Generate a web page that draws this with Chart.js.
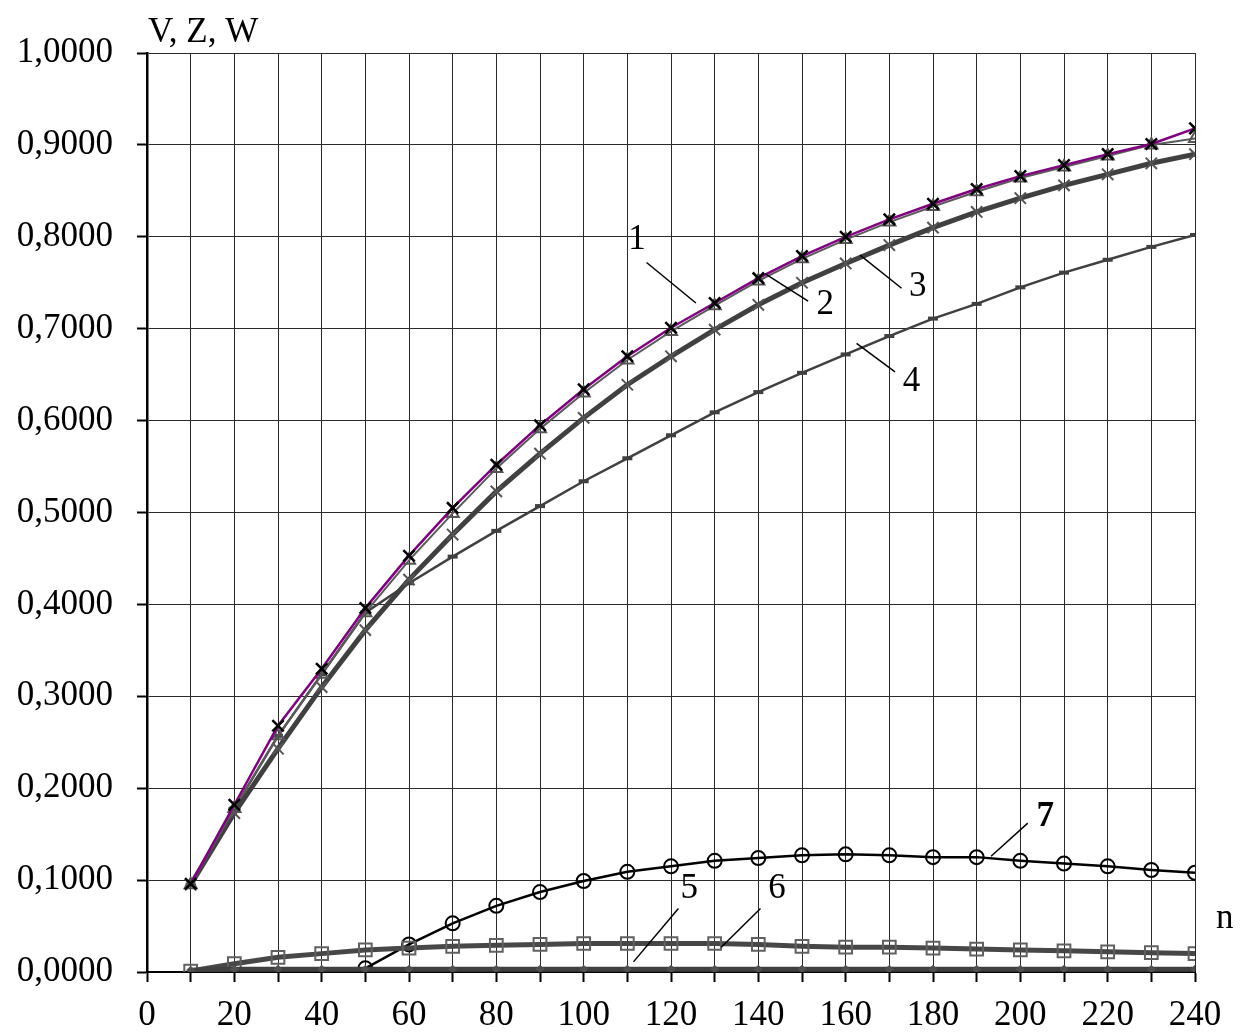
<!DOCTYPE html>
<html>
<head>
<meta charset="utf-8">
<script src="https://cdn.jsdelivr.net/npm/chart.js@4/dist/chart.umd.min.js"></script>
<style>
  html, body { margin: 0; padding: 0; background: #fff; }
  canvas { display: block; }
</style>
</head>
<body>
<canvas id="myChart" width="1240" height="1034"></canvas>
<script>
// n values (x axis)
var nValues = [10, 20, 30, 40, 50, 60, 70, 80, 90, 100, 110, 120, 130, 140, 150, 160, 170, 180, 190, 200, 210, 220, 230, 240];

// curves 1-6 start at n = 10, curve 7 starts at n = 50
var curve1 = [0.096, 0.182, 0.268, 0.330, 0.396, 0.453, 0.505, 0.552, 0.595, 0.634, 0.670, 0.701, 0.728, 0.755, 0.779, 0.800, 0.819, 0.836, 0.852, 0.866, 0.878, 0.890, 0.901, 0.918];
var curve2 = [0.095, 0.178, 0.257, 0.324, 0.391, 0.448, 0.499, 0.548, 0.591, 0.630, 0.666, 0.697, 0.725, 0.752, 0.776, 0.797, 0.816, 0.833, 0.849, 0.864, 0.876, 0.888, 0.900, 0.907];
var curve3 = [0.095, 0.173, 0.243, 0.310, 0.372, 0.427, 0.476, 0.523, 0.564, 0.603, 0.639, 0.670, 0.699, 0.726, 0.750, 0.771, 0.791, 0.810, 0.827, 0.842, 0.856, 0.868, 0.880, 0.890];
var curve4 = [0.095, 0.178, 0.257, 0.324, 0.391, 0.423, 0.452, 0.480, 0.507, 0.534, 0.559, 0.584, 0.609, 0.631, 0.652, 0.672, 0.692, 0.711, 0.727, 0.745, 0.761, 0.775, 0.789, 0.802];
var curve5 = [0.002, 0.003, 0.003, 0.003, 0.003, 0.003, 0.003, 0.003, 0.003, 0.003, 0.003, 0.003, 0.003, 0.003, 0.003, 0.003, 0.003, 0.003, 0.003, 0.003, 0.003, 0.003, 0.003, 0.003];
var curve6 = [0.001, 0.009, 0.016, 0.020, 0.024, 0.026, 0.028, 0.029, 0.030, 0.031, 0.031, 0.031, 0.031, 0.030, 0.028, 0.027, 0.027, 0.026, 0.025, 0.024, 0.023, 0.022, 0.021, 0.020];
var curve7 = [null, null, null, null, 0.004, 0.030, 0.053, 0.072, 0.087, 0.099, 0.109, 0.115, 0.121, 0.124, 0.127, 0.128, 0.127, 0.125, 0.125, 0.121, 0.118, 0.115, 0.111, 0.108];

// curve number labels with leader lines, in data units
var curveLabels = [
  {text: '1', n: 112.2, v: 0.797, from: [114.4, 0.772], to: [125.7, 0.728]},
  {text: '2', n: 155.3, v: 0.726, from: [141.5, 0.760], to: [151.4, 0.730]},
  {text: '3', n: 176.5, v: 0.746, from: [163.3, 0.780], to: [172.8, 0.744]},
  {text: '4', n: 175.1, v: 0.642, from: [162.5, 0.684], to: [171.3, 0.653]},
  {text: '5', n: 124.2, v: 0.091, from: [121.7, 0.069], to: [111.4, 0.011]},
  {text: '6', n: 144.3, v: 0.091, from: [140.5, 0.069], to: [131.5, 0.027]},
  {text: '7', n: 205.7, v: 0.169, from: [201.7, 0.162], to: [193.3, 0.126], bold: true}
];

function pts(arr) {
  var out = [];
  for (var i = 0; i < nValues.length; i++) {
    if (arr[i] !== null) out.push({x: nValues[i], y: arr[i]});
  }
  return out;
}

var FONT = '"Liberation Serif", "Times New Roman", serif';

var labelsPlugin = {
  id: 'curveLabels',
  afterDraw: function(chart) {
    var c = chart.ctx, xs = chart.scales.x, ys = chart.scales.y;
    c.save();
    c.fillStyle = '#000';
    c.textAlign = 'left';
    c.textBaseline = 'alphabetic';
    c.font = '35px ' + FONT;
    c.fillText('V, Z, W', 148, 42);
    c.fillText('n', 1216, 928);
    c.strokeStyle = '#000';
    c.lineWidth = 1.5;
    curveLabels.forEach(function(l) {
      c.beginPath();
      c.moveTo(xs.getPixelForValue(l.from[0]), ys.getPixelForValue(l.from[1]));
      c.lineTo(xs.getPixelForValue(l.to[0]), ys.getPixelForValue(l.to[1]));
      c.stroke();
      c.font = (l.bold ? 'bold ' : '') + '35px ' + FONT;
      c.textAlign = 'center';
      c.textBaseline = 'middle';
      c.fillText(l.text, xs.getPixelForValue(l.n), ys.getPixelForValue(l.v));
    });
    c.restore();
  }
};

var ctx = document.getElementById('myChart').getContext('2d');
var myChart = new Chart(ctx, {
  type: 'line',
  data: {
    datasets: [{
        label: '1',
        data: pts(curve1),
        borderColor: '#800080',
        borderWidth: 2.5,
        pointStyle: 'crossRot',
        pointRadius: 8,
        pointBorderColor: '#000',
        pointBorderWidth: 2.5
      }, {
        label: '2',
        data: pts(curve2),
        borderColor: '#5a5a5a',
        borderWidth: 2,
        pointStyle: 'triangle',
        pointRadius: 7,
        pointBorderColor: '#555',
        pointBackgroundColor: 'rgba(255,255,255,0)',
        pointBorderWidth: 2
      }, {
        label: '3',
        data: pts(curve3),
        borderColor: '#404040',
        borderWidth: 5,
        pointStyle: 'crossRot',
        pointRadius: 8,
        pointBorderColor: '#555',
        pointBorderWidth: 2
      }, {
        label: '4',
        data: pts(curve4),
        borderColor: '#404040',
        borderWidth: 2.5,
        pointStyle: 'line',
        pointRadius: 5,
        pointBorderColor: '#404040',
        pointBorderWidth: 4
      }, {
        label: '5',
        data: pts(curve5),
        borderColor: '#404040',
        borderWidth: 5,
        pointStyle: 'rectRot',
        pointRadius: 4,
        pointBorderColor: '#505050',
        pointBackgroundColor: '#505050',
        pointBorderWidth: 1
      }, {
        label: '6',
        data: pts(curve6),
        borderColor: '#474747',
        borderWidth: 5,
        pointStyle: 'rect',
        pointRadius: 9,
        pointBorderColor: '#606060',
        pointBackgroundColor: 'rgba(255,255,255,0)',
        pointBorderWidth: 2
      }, {
        label: '7',
        data: pts(curve7),
        borderColor: '#000',
        borderWidth: 2.5,
        pointStyle: 'circle',
        pointRadius: 7,
        pointBorderColor: '#000',
        pointBackgroundColor: 'rgba(255,255,255,0)',
        pointBorderWidth: 2
      }
    ]
  },
  options: {
    responsive: false,
    animation: false,
    events: [],
    layout: { padding: { left: 0, top: 53, right: 45, bottom: 0 } },
    elements: { line: { tension: 0, fill: false } },
    plugins: { legend: { display: false }, tooltip: { enabled: false } },
    scales: {
      x: {
        type: 'linear',
        min: 0,
        max: 240,
        afterFit: function(s) { s.height = 62; },
        border: { display: true, color: '#000', width: 2 },
        grid: { color: '#2a2a2a', lineWidth: 1, tickLength: 10, tickColor: '#000', tickWidth: 2 },
        ticks: {
          stepSize: 10,
          autoSkip: false,
          maxRotation: 0,
          padding: 13,
          color: '#000',
          font: { family: FONT, size: 35 },
          callback: function(v) { return v % 20 === 0 ? String(v) : ''; }
        }
      },
      y: {
        min: 0,
        max: 1,
        afterFit: function(s) { s.width = 147; },
        border: { display: true, color: '#000', width: 2.5 },
        grid: { color: '#2a2a2a', lineWidth: 1, tickLength: 10, tickColor: '#000', tickWidth: 2 },
        ticks: {
          stepSize: 0.1,
          padding: 24,
          color: '#000',
          font: { family: FONT, size: 35 },
          callback: function(v) { return v.toFixed(4).replace('.', ','); }
        }
      }
    }
  },
  plugins: [labelsPlugin]
});
</script>
</body>
</html>
